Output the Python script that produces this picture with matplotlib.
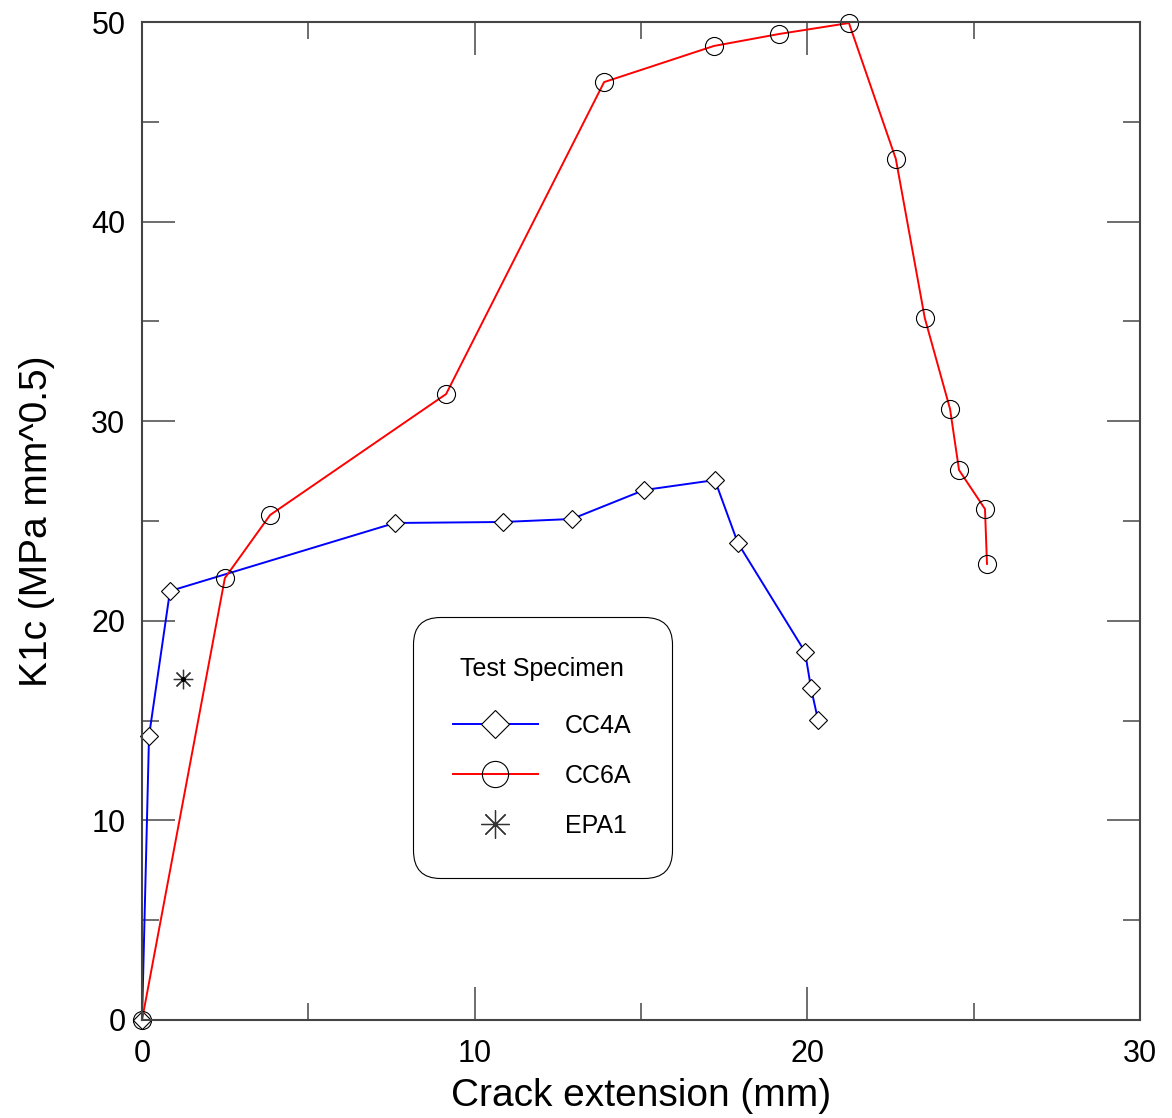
import matplotlib.pyplot as plt

plt.rcParams['font.family'] = ['Liberation Sans', 'DejaVu Sans']

# CC4A specimen
cc4a_x = [0.0, 0.21, 0.84, 7.60, 10.85, 12.92, 15.09, 17.22, 17.91, 19.93, 20.11, 20.32]
cc4a_y = [0.0, 14.23, 21.49, 24.90, 24.95, 25.10, 26.55, 27.05, 23.90, 18.44, 16.63, 15.03]

# CC6A specimen
cc6a_x = [0.0, 2.49, 3.85, 9.14, 13.89, 17.19, 19.15, 21.25, 22.66, 23.53, 24.29, 24.56, 25.34, 25.40]
cc6a_y = [0.0, 22.14, 25.30, 31.36, 46.99, 48.80, 49.40, 49.95, 43.14, 35.17, 30.61, 27.55, 25.60, 22.85]

# EPA1 specimen
epa1_x = [1.23]
epa1_y = [17.08]

fig = plt.figure(figsize=(11.72, 11.18), dpi=100)
ax = fig.add_axes([0.1212, 0.0877, 0.8515, 0.8926])

ax.plot(cc4a_x, cc4a_y, color='blue', lw=1.4, marker='D', ms=9.5,
        mfc='white', mec='black', mew=0.8, label='CC4A', clip_on=False)
ax.plot(cc6a_x, cc6a_y, color='red', lw=1.4, marker='o', ms=13,
        mfc='none', mec='black', mew=0.8, label='CC6A', clip_on=False)
ax.plot(epa1_x, epa1_y, ls='none', marker=(8, 2, 0), ms=14,
        mec='#333333', mew=0.9, label='EPA1')
ax.plot(epa1_x, epa1_y, ls='none', marker='o', ms=2.5, color='black')

ax.set_xlim(0, 30)
ax.set_ylim(0, 50)
ax.set_xticks([0, 10, 20, 30])
ax.set_xticks([5, 15, 25], minor=True)
ax.set_yticks([0, 10, 20, 30, 40, 50])
ax.set_yticks([5, 15, 25, 35, 45], minor=True)
ax.tick_params(which='both', direction='in', top=True, right=True,
               color='#555555', width=1.2, labelsize=22)
ax.tick_params(axis='x', which='both', pad=14)
ax.tick_params(axis='y', which='both', pad=12)
ax.tick_params(which='major', length=24)
ax.tick_params(which='minor', length=12)
for s in ax.spines.values():
    s.set_color('#444444')
    s.set_linewidth(1.5)

ax.set_xlabel('Crack extension (mm)', fontsize=28, labelpad=6)
ax.set_ylabel('K1c (MPa mm^0.5)', fontsize=28, labelpad=26)

leg = ax.legend(title='Test Specimen', loc='lower left',
                bbox_to_anchor=(0.2715, 0.1423), borderaxespad=0,
                fontsize=18, title_fontsize=18, markerscale=1.45,
                handlelength=3.4, handletextpad=1.08, labelspacing=1.04,
                borderpad=1.6, fancybox=True, framealpha=1,
                edgecolor='black')
leg.get_frame().set_boxstyle('round', pad=0, rounding_size=1.1)
leg.get_frame().set_linewidth(0.8)
leg._legend_box.sep = 24

fig.savefig('out.png', dpi=100)
